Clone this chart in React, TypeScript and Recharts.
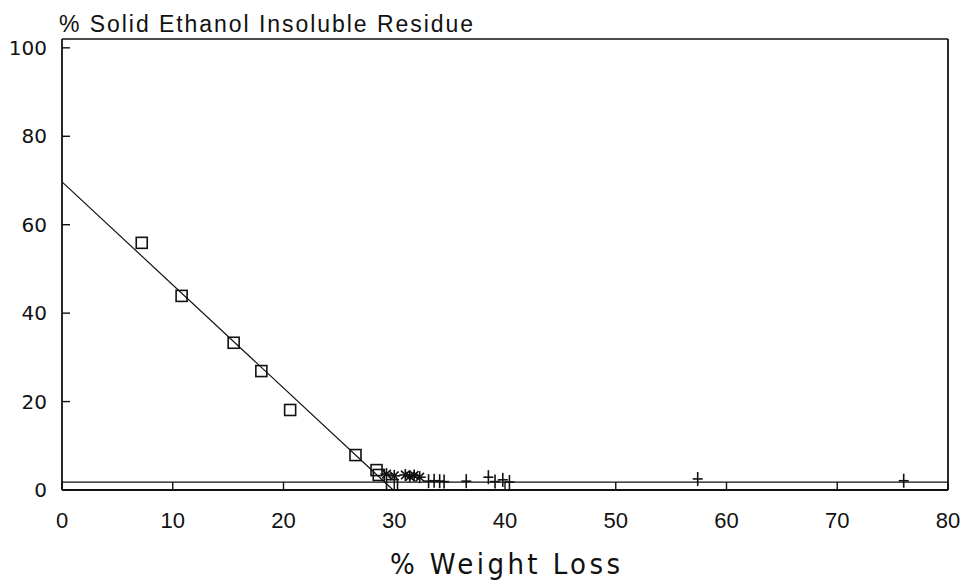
import React from "react";
import {
  ComposedChart,
  Scatter,
  XAxis,
  YAxis,
  ReferenceLine,
} from "recharts";

// open squares
const squareX = [7.2, 10.8, 15.5, 18.0, 20.6, 26.5, 28.4, 28.6, 29.8];
const squareY = [55.9, 43.9, 33.3, 26.9, 18.1, 7.9, 4.5, 3.4, 1.1];

// asterisks
const starX = [29.3, 30.0, 31.0, 31.4, 31.8, 32.3];
const starY = [3.6, 3.2, 3.4, 3.1, 3.3, 2.9];

// pluses
const plusX = [33.1, 33.6, 34.1, 34.5, 36.5, 38.5, 39.1, 39.8, 40.4, 57.4, 76.0];
const plusY = [2.0, 2.1, 2.0, 1.9, 2.0, 2.9, 1.9, 2.3, 1.8, 2.5, 2.1];

// fitted lines
const fitStart = { x: 0, y: 69.7 };
const fitEnd = { x: 29.9, y: 0 };
const baseLevel = 1.8;

const xTicks = [0, 10, 20, 30, 40, 50, 60, 70, 80];
const yTicks = [0, 20, 40, 60, 80, 100];
const yMax = 102; // frame top sits slightly above the 100 tick

const toPoints = (xs: number[], ys: number[]) =>
  xs.map((x, i) => ({ x, y: ys[i] }));

const INK = "#111";

const OpenSquare = (props: any) => {
  const { cx, cy } = props;
  return (
    <rect
      x={cx - 5.5}
      y={cy - 5.5}
      width={11}
      height={11}
      fill="none"
      stroke={INK}
      strokeWidth={1.6}
    />
  );
};

const Asterisk = (props: any) => {
  const { cx, cy } = props;
  const r = 6;
  return (
    <g stroke={INK} strokeWidth={1.6}>
      <line x1={cx - r} y1={cy} x2={cx + r} y2={cy} />
      <line x1={cx} y1={cy - r} x2={cx} y2={cy + r} />
      <line x1={cx - 4.3} y1={cy - 4.3} x2={cx + 4.3} y2={cy + 4.3} />
      <line x1={cx - 4.3} y1={cy + 4.3} x2={cx + 4.3} y2={cy - 4.3} />
    </g>
  );
};

const Plus = (props: any) => {
  const { cx, cy } = props;
  return (
    <g stroke={INK} strokeWidth={1.6}>
      <line x1={cx} y1={cy - 7} x2={cx} y2={cy + 7} />
      <line x1={cx - 5} y1={cy} x2={cx + 5} y2={cy} />
    </g>
  );
};

export default function App() {
  return (
    <div
      style={{
        position: "absolute",
        left: 0,
        top: 0,
        width: 969,
        height: 584,
        background: "#fff",
      }}
    >
      <ComposedChart
        width={969}
        height={584}
        margin={{ top: 39, right: 21, bottom: 64, left: 12 }}
      >
        <XAxis
          type="number"
          dataKey="x"
          domain={[0, 80]}
          ticks={xTicks}
          allowDataOverflow
          height={30}
          tickSize={-8}
          tickMargin={30}
          axisLine={{ stroke: INK, strokeWidth: 1.8 }}
          tickLine={{ stroke: INK, strokeWidth: 1.4 }}
          tick={{
            fill: INK,
            fontSize: 22,
            fontFamily: "'Liberation Sans Narrow', 'Liberation Sans', sans-serif",
          }}
        />
        <YAxis
          type="number"
          dataKey="y"
          domain={[0, yMax]}
          ticks={yTicks}
          allowDataOverflow
          width={50}
          tickSize={-8}
          tickMargin={23}
          axisLine={{ stroke: INK, strokeWidth: 1.8 }}
          tickLine={{ stroke: INK, strokeWidth: 1.4 }}
          tick={{
            fill: INK,
            fontSize: 20,
            fontFamily: "'DejaVu Sans', sans-serif",
          }}
        />
        <ReferenceLine y={yMax} stroke={INK} strokeWidth={1.6} />
        <ReferenceLine x={80} stroke={INK} strokeWidth={1.8} />
        <ReferenceLine y={baseLevel} stroke={INK} strokeWidth={1.3} />
        <ReferenceLine
          segment={[fitStart, fitEnd]}
          stroke={INK}
          strokeWidth={1.2}
        />
        <Scatter
          data={toPoints(squareX, squareY)}
          shape={OpenSquare}
          isAnimationActive={false}
        />
        <Scatter
          data={toPoints(starX, starY)}
          shape={Asterisk}
          isAnimationActive={false}
        />
        <Scatter
          data={toPoints(plusX, plusY)}
          shape={Plus}
          isAnimationActive={false}
        />
      </ComposedChart>
      <svg
        width={969}
        height={584}
        style={{ position: "absolute", left: 0, top: 0, pointerEvents: "none" }}
      >
        <text
          x={59}
          y={32}
          fontSize={23}
          fontFamily="'Liberation Sans', sans-serif"
          fill={INK}
          textLength={414}
          lengthAdjust="spacing"
        >
          % Solid Ethanol Insoluble Residue
        </text>
        <text
          x={390}
          y={574}
          fontSize={29}
          fontFamily="'DejaVu Sans Condensed', 'Liberation Sans Narrow', 'Liberation Sans', sans-serif"
          fill={INK}
          textLength={230}
          lengthAdjust="spacing"
        >
          % Weight Loss
        </text>
      </svg>
    </div>
  );
}
